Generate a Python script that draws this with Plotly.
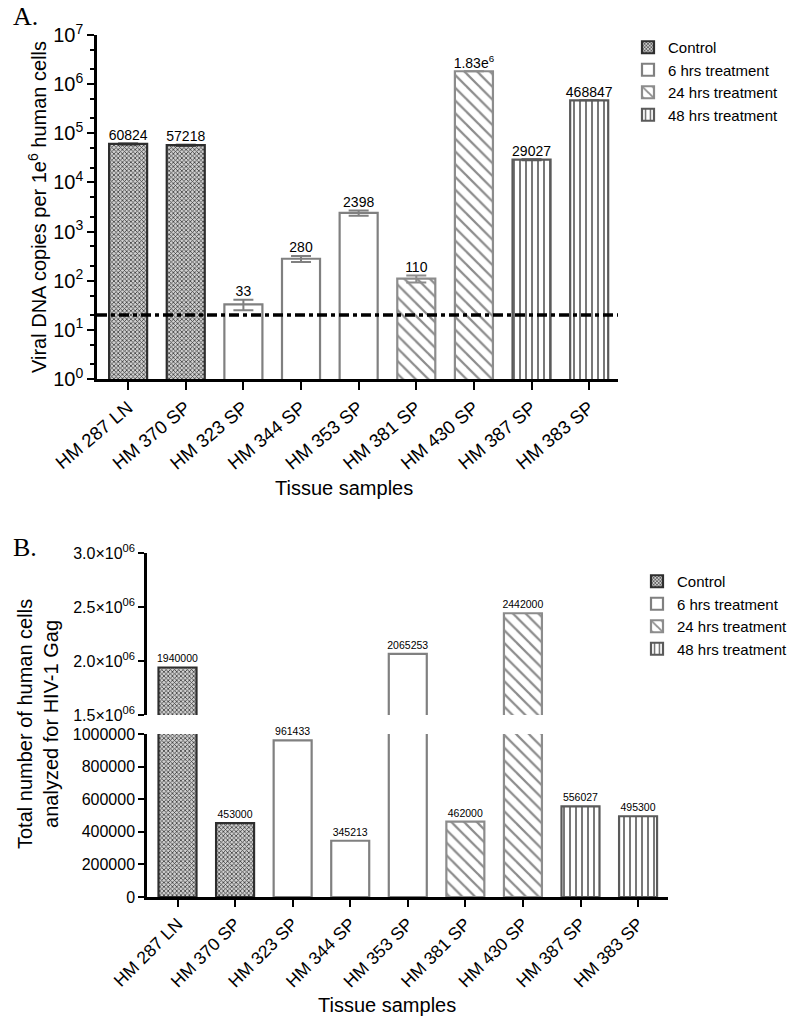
import plotly.graph_objects as go

# tissue samples and treatment groups
samples = ["HM 287 LN", "HM 370 SP", "HM 323 SP", "HM 344 SP", "HM 353 SP",
           "HM 381 SP", "HM 430 SP", "HM 387 SP", "HM 383 SP"]
sample_group = ["Control", "Control", "6 hrs treatment", "6 hrs treatment", "6 hrs treatment",
                "24 hrs treatment", "24 hrs treatment", "48 hrs treatment", "48 hrs treatment"]
group_names = ["Control", "6 hrs treatment", "24 hrs treatment", "48 hrs treatment"]

# panel A: viral DNA copies per 1e6 human cells
viral_copies = [60824, 57218, 33, 280, 2398, 110, 1830000, 29027, 468847]
viral_err = [1500, 1200, 8, 40, 300, 18, 0, 600, 0]
viral_labels = ["60824", "57218", "33", "280", "2398", "110", "1.83e<sup>6</sup>", "29027", "468847"]
detection_limit = 20
log_ticks = [1, 10, 100, 1000, 10000, 100000, 1000000, 10000000]
log_ticktext = ["10<sup>%d</sup>" % p for p in range(8)]

# panel B: number of human cells analyzed
cells_analyzed = [1940000, 453000, 961433, 345213, 2065253, 462000, 2442000, 556027, 495300]
low_ticks = [0, 200000, 400000, 600000, 800000, 1000000]
high_ticks = [1500000, 2000000, 2500000, 3000000]
high_ticktext = ["1.5×10<sup>06</sup>", "2.0×10<sup>06</sup>", "2.5×10<sup>06</sup>", "3.0×10<sup>06</sup>"]
low_max, high_min, high_max = 1000000, 1500000, 3000000

FONT = "Liberation Sans, Arial, sans-serif"
SERIF = "Liberation Serif, Times New Roman, serif"
W, H, PAGE_PAD = 800, 1023, 8  # page body adds an 8px margin


def fx(px):
    return (px - PAGE_PAD) / W


def fy(px):
    return 1 - (px - PAGE_PAD) / H


styles = {
    "Control": dict(line="#2e2e2e", pattern=dict(shape="x", size=3, solidity=0.45, fgcolor="#3a3a3a", bgcolor="#d0d0d0", fillmode="replace"), err="#2e2e2e"),
    "6 hrs treatment": dict(line="#808080", pattern=dict(shape="", bgcolor="white"), err="#808080"),
    "24 hrs treatment": dict(line="#8c8c8c", pattern=dict(shape="\\", size=9, solidity=0.25, fgcolor="#8c8c8c", bgcolor="white", fillmode="replace"), err="#8c8c8c"),
    "48 hrs treatment": dict(line="#5a5a5a", pattern=dict(shape="|", size=6, solidity=0.3, fgcolor="#6a6a6a", bgcolor="white", fillmode="replace"), err="#5a5a5a"),
}

fig = go.Figure()

for g in group_names:
    idx = [i for i, s in enumerate(sample_group) if s == g]
    st = styles[g]
    fig.add_trace(go.Bar(
        x=[samples[i] for i in idx], y=[viral_copies[i] for i in idx],
        error_y=dict(type="data", array=[viral_err[i] for i in idx], color=st["err"], thickness=2, width=10),
        marker=dict(color="white", line=dict(color=st["line"], width=2.2), pattern=st["pattern"]),
        width=0.66, name=g, xaxis="x", yaxis="y", legend="legend",
    ))

# value labels sit just above the error bar caps
fig.add_trace(go.Scatter(
    x=samples, y=[v + e for v, e in zip(viral_copies, viral_err)], text=viral_labels,
    mode="text", textposition="top center", cliponaxis=False, showlegend=False,
    textfont=dict(size=14, color="black", family=FONT), xaxis="x", yaxis="y", hoverinfo="skip",
))

for g in group_names:
    idx = [i for i, s in enumerate(sample_group) if s == g]
    st = styles[g]
    xs = [samples[i] for i in idx]
    ys = [cells_analyzed[i] for i in idx]
    common = dict(x=xs, y=ys, width=0.66, textposition="outside", constraintext="none",
                  cliponaxis=False, textfont=dict(size=10.5, color="black", family=FONT),
                  marker=dict(color="white", line=dict(color=st["line"], width=2.2), pattern=st["pattern"]))
    fig.add_trace(go.Bar(**common, name=g, xaxis="x2", yaxis="y2", legend="legend2",
                         text=[str(v) if v < low_max else "" for v in ys]))
    fig.add_trace(go.Bar(**common, name=g, xaxis="x2", yaxis="y3", showlegend=False,
                         text=[str(v) if v > high_min else "" for v in ys]))

fig.add_shape(type="line", xref="x domain", x0=0, x1=1, yref="y", y0=detection_limit, y1=detection_limit,
              line=dict(color="black", width=3.5, dash="10px,4px,4px,4px"))

axis_common = dict(showline=True, linecolor="black", linewidth=2.5, ticks="outside",
                   tickcolor="black", tickwidth=2, showgrid=False, zeroline=False, automargin=False,
                   tickfont=dict(family=FONT, color="black"))

fig.update_layout(
    width=W, height=H,
    margin=dict(l=0, r=0, t=0, b=0, autoexpand=False),
    paper_bgcolor="white", plot_bgcolor="white",
    barmode="overlay",
    font=dict(family=FONT, color="black"),
    xaxis=dict(**axis_common, domain=[fx(97), fx(618)], anchor="y", type="category",
               categoryorder="array", categoryarray=samples, range=[-0.54, 8.5],
               ticklen=8, tickangle=-40),
    yaxis=dict(**axis_common, domain=[fy(379), fy(35)], anchor="x",
               type="log", range=[0, 7], tickvals=log_ticks, ticktext=log_ticktext, ticklen=7,
               minor=dict(ticks="outside", ticklen=4, tickwidth=1.5, tickcolor="black", showgrid=False)),
    xaxis2=dict(**axis_common, domain=[fx(147), fx(668)], anchor="y2", type="category",
                categoryorder="array", categoryarray=samples, range=[-0.53, 8.52],
                ticklen=7, tickangle=-45),
    yaxis2=dict(**axis_common, domain=[fy(897), fy(734)], anchor="x2",
                range=[0, low_max], tickvals=low_ticks, tickformat="d", ticklen=6),
    yaxis3=dict(**axis_common, domain=[fy(715), fy(553)], anchor="x2",
                range=[high_min, high_max], tickvals=high_ticks, ticktext=high_ticktext, ticklen=6),
    legend=dict(x=fx(628), y=fy(31), xanchor="left", yanchor="top", font=dict(size=15, family=FONT),
                bgcolor="rgba(0,0,0,0)", traceorder="normal", tracegroupgap=0),
    legend2=dict(x=fx(637), y=fy(565), xanchor="left", yanchor="top", font=dict(size=15, family=FONT),
                 bgcolor="rgba(0,0,0,0)", traceorder="normal", tracegroupgap=0),
)
fig.update_layout(xaxis_tickfont_size=18.5, xaxis2_tickfont_size=17.5,
                  yaxis_tickfont_size=20, yaxis2_tickfont_size=16, yaxis3_tickfont_size=16)

annots = [
    dict(text="A.", x=fx(11), y=fy(17), xanchor="left", font=dict(size=26, family=SERIF)),
    dict(text="B.", x=fx(11), y=fy(547), xanchor="left", font=dict(size=26, family=SERIF)),
    dict(text="Viral DNA copies per 1e<sup>6</sup> human cells", x=fx(37), y=fy(207),
         xanchor="center", textangle=-90, font=dict(size=20, family=FONT)),
    dict(text="Tissue samples", x=fx(344), y=fy(488), xanchor="center", font=dict(size=20, family=FONT)),
    dict(text="Tissue samples", x=fx(387), y=fy(1005), xanchor="center", font=dict(size=20, family=FONT)),
    dict(text="Total number of human cells<br>analyzed for HIV-1 Gag", x=fx(38), y=fy(724),
         xanchor="center", textangle=-90, font=dict(size=20, family=FONT)),
]
for a in annots:
    fig.add_annotation(xref="paper", yref="paper", showarrow=False, yanchor="middle", **a)

fig.write_html("out.html")
